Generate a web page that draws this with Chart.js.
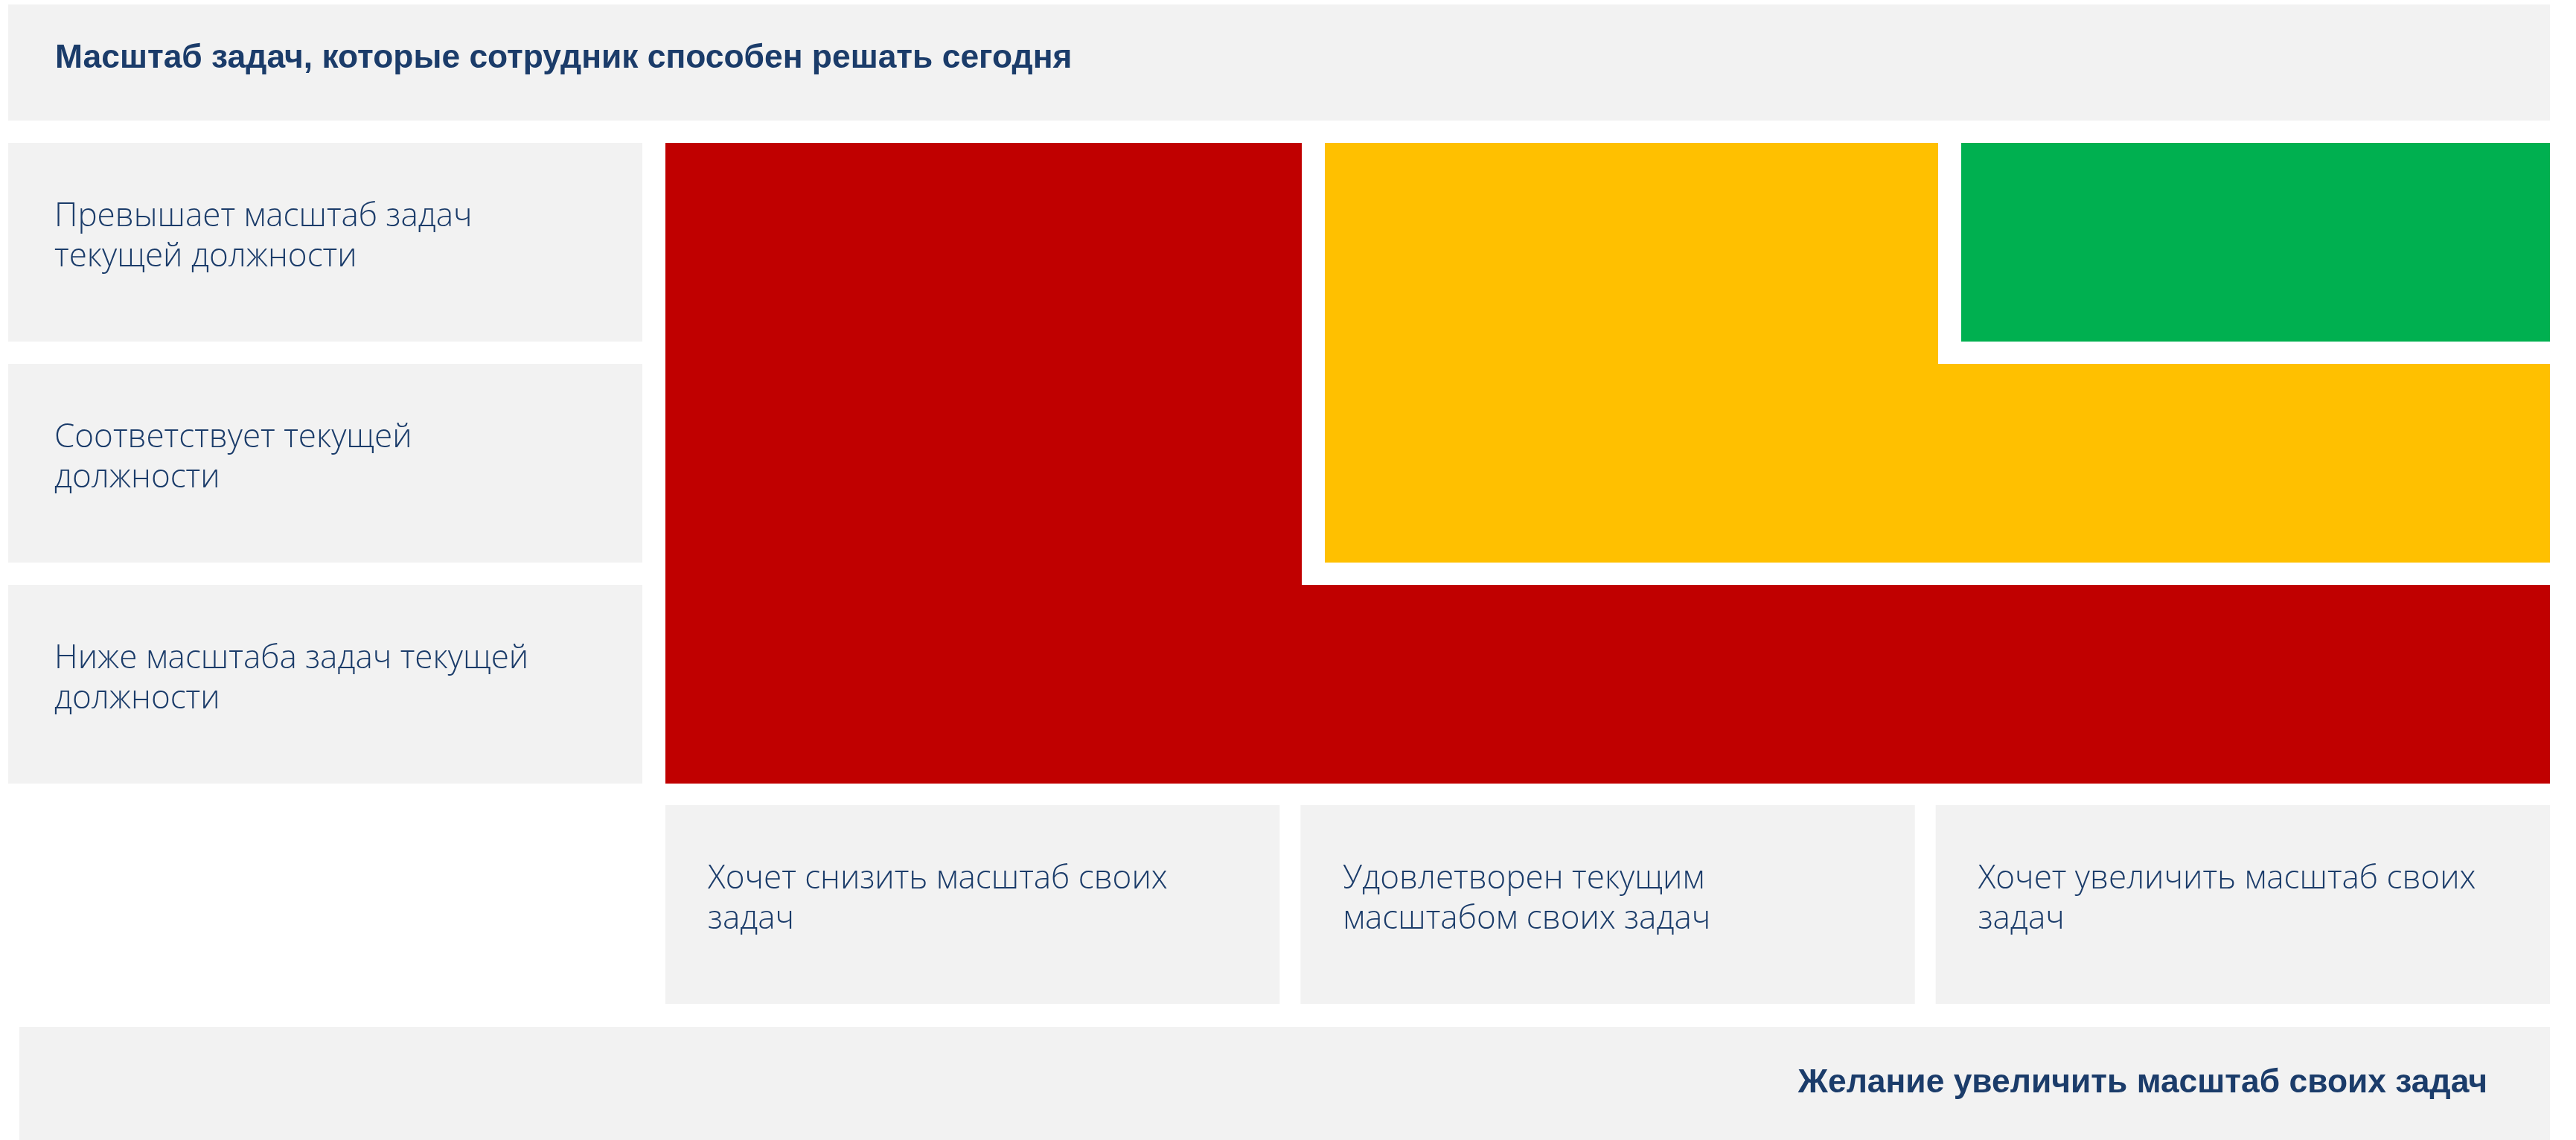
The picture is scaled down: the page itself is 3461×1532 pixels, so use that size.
<!DOCTYPE html>
<html>
<head>
<meta charset="utf-8">
<script src="https://cdn.jsdelivr.net/npm/chart.js@4.4.1/dist/chart.umd.min.js"></script>
<style>
  html, body { margin: 0; padding: 0; background: #ffffff; }
</style>
</head>
<body>
<canvas id="matrix" width="3461" height="1532"></canvas>
<script>
// rows: capability level, top to bottom
const rowLabels = [
  ['Превышает масштаб задач', 'текущей должности'],
  ['Соответствует текущей', 'должности'],
  ['Ниже масштаба задач текущей', 'должности']
];
// columns: desire to grow, left to right
const colLabels = [
  ['Хочет снизить масштаб своих', 'задач'],
  ['Удовлетворен текущим', 'масштабом своих задач'],
  ['Хочет увеличить масштаб своих', 'задач']
];
const rowTitle = 'Масштаб задач, которые сотрудник способен решать сегодня';
const colTitle = 'Желание увеличить масштаб своих задач';

const zoneNames = ['Красная зона', 'Жёлтая зона', 'Зелёная зона'];
// zone index of every cell, rows top->bottom, columns left->right
const cellZone = [
  [0, 1, 2],
  [0, 1, 1],
  [0, 0, 0]
];

// styles
const zoneColors = ['#C00000', '#FFC000', '#00B050'];
const boxColor = '#F2F2F2';
const textColor = '#1B3C6A';
const labelFont = '300 44px "Open Sans"';
const titleFont = 'bold 44.4px "Liberation Sans", Arial';

// label grid: gaps in column / row units
const GAP_X = 28 / 853.33;
const GAP_Y = 30 / 297;
// the coloured grid is drawn a little wider than the label grid
const ZONE_MIN = -28 / 855;
const ZONE_MAX = ZONE_MIN + 2560 / 855;
const ZONE_GAP = 31 / 855;

// one filled rectangle per cell, stretched over the gap when the neighbour is the same zone
const datasets = [];
cellZone.forEach((row, r) => {
  row.forEach((z, c) => {
    const right = c < row.length - 1 && cellZone[r][c + 1] === z;
    const below = r < cellZone.length - 1 && cellZone[r + 1][c] === z;
    const x0 = c > 0 ? c + ZONE_GAP : c;
    const x1 = right ? c + 1 + ZONE_GAP + 0.01 : Math.min(c + 1, ZONE_MAX);
    const y0 = r;
    const y1 = below ? r + 1 + 0.01 : r + 1 - GAP_Y;
    datasets.push({
      label: zoneNames[z],
      xAxisID: 'xz',
      data: [{x: x0, y: y0}, {x: x1, y: y0}, {x: x1, y: y1}, {x: x0, y: y1}, {x: x0, y: y0}],
      fill: 'shape',
      backgroundColor: zoneColors[z],
      borderColor: 'rgba(0,0,0,0)',
      borderWidth: 0,
      pointRadius: 0,
      tension: 0
    });
  });
});

function drawLines(ctx, lines, x, top) {
  lines.forEach((t, i) => ctx.fillText(t, x, top + 112 + i * 54));
}

// grey label boxes and all texts, placed from the chart scales
const framePlugin = {
  id: 'frames',
  beforeDatasetsDraw(chart) {
    const {ctx, scales: {x, y}} = chart;
    const rowH = y.getPixelForValue(1 - GAP_Y) - y.getPixelForValue(0);
    const left = 11;
    const right = x.getPixelForValue(3);
    ctx.save();
    ctx.fillStyle = boxColor;
    // header
    ctx.fillRect(left, 6, right - left, 156);
    // row boxes
    rowLabels.forEach((_, r) => {
      const top = y.getPixelForValue(r);
      ctx.fillRect(left, top, x.getPixelForValue(0) - 3 - left, rowH);
    });
    // column boxes
    const colTop = y.getPixelForValue(3) - 1;
    colLabels.forEach((_, c) => {
      const l = x.getPixelForValue(c + GAP_X);
      ctx.fillRect(l, colTop, x.getPixelForValue(c + 1) - l, rowH);
    });
    // footer
    ctx.fillRect(26, 1380, right - 26, chart.height - 1380);

    ctx.fillStyle = textColor;
    ctx.textBaseline = 'alphabetic';
    ctx.textAlign = 'left';
    ctx.font = labelFont;
    rowLabels.forEach((lines, r) => drawLines(ctx, lines, 73, y.getPixelForValue(r)));
    colLabels.forEach((lines, c) => drawLines(ctx, lines, x.getPixelForValue(c + GAP_X) + 57, colTop));

    ctx.font = titleFont;
    ctx.fillText(rowTitle, 74, 91);
    ctx.textAlign = 'right';
    ctx.fillText(colTitle, 3342, 1468);
    ctx.restore();
  }
};

new Chart(document.getElementById('matrix'), {
  type: 'line',
  data: { datasets: datasets },
  options: {
    responsive: false,
    devicePixelRatio: 1,
    animation: false,
    layout: { padding: { left: 866, right: 35, top: 192, bottom: 449 } },
    scales: {
      x: { type: 'linear', min: 0, max: 3, display: false },
      xz: { type: 'linear', axis: 'x', position: 'bottom', min: ZONE_MIN, max: ZONE_MAX, display: false },
      y: { type: 'linear', min: 0, max: 3, reverse: true, display: false }
    },
    plugins: {
      legend: { display: false },
      tooltip: { enabled: false }
    }
  },
  plugins: [framePlugin]
});
</script>
</body>
</html>
